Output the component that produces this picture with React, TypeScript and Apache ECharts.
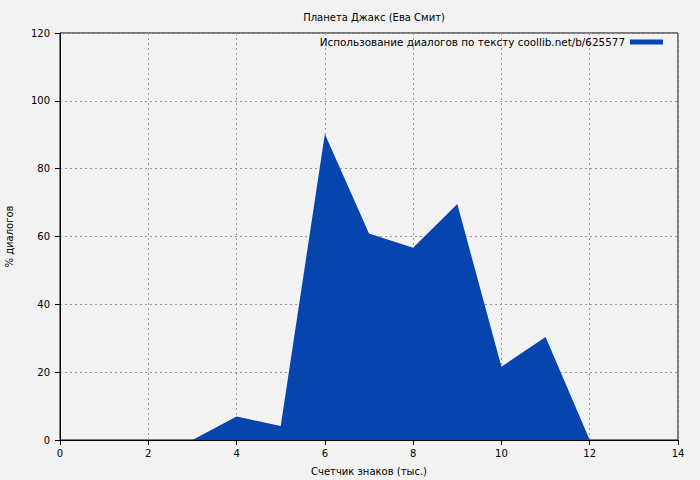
import React, { useEffect, useRef } from "react";
import * as echarts from "echarts";

const xValues = [0, 1, 2, 3, 4, 5, 6, 7, 8, 9, 10, 11, 12];
const yValues = [0, 0, 0, 0, 6.9, 4.1, 90.2, 60.9, 56.7, 69.6, 21.6, 30.4, 0];
const seriesName = "Использование диалогов по тексту coollib.net/b/625577";
const titleText = "Планета Джакс (Ева Смит)";
const xName = "Счетчик знаков (тыс.)";
const yName = "% диалогов";

export default function App() {
  const ref = useRef<HTMLDivElement>(null);
  useEffect(() => {
    if (!ref.current) return;
    const chart = echarts.init(ref.current, null, { renderer: "svg" });
    const font = "DejaVu Sans, sans-serif";
    chart.setOption({
      animation: false,
      backgroundColor: "#f2f2f2",
      textStyle: { fontFamily: font },
      title: {
        text: titleText,
        left: 369,
        textAlign: "center",
        top: 7,
        textStyle: { fontSize: 10, fontWeight: "normal", color: "#000", fontFamily: font },
      },
      legend: {
        show: true,
        data: [{ name: seriesName, icon: "rect" }],
        right: 32,
        top: 32,
        align: "right",
        itemWidth: 33,
        itemHeight: 5,
        itemGap: 8,
        textStyle: { fontSize: 10.4, color: "#000", fontFamily: font },
      },
      grid: {
        left: 60,
        right: 22,
        top: 33,
        bottom: 40,
        containLabel: false,
        outerBoundsMode: "none",
        show: true,
        borderColor: "#000",
        borderWidth: 1,
        backgroundColor: "transparent",
      },
      xAxis: {
        type: "value",
        min: 0,
        max: 14,
        interval: 2,
        name: xName,
        nameLocation: "middle",
        nameGap: 26,
        nameTextStyle: { fontSize: 10, color: "#000", fontFamily: font },
        axisLine: { show: true, onZero: false, lineStyle: { color: "#000", width: 1 } },
        axisTick: { show: true, inside: false, length: 5, lineStyle: { color: "#000" } },
        axisLabel: { fontSize: 10, color: "#000", margin: 8, fontFamily: font },
        splitLine: { show: true, lineStyle: { color: "#999", type: [2, 3], width: 1 } },
      },
      yAxis: {
        type: "value",
        min: 0,
        max: 120,
        interval: 20,
        name: yName,
        nameLocation: "middle",
        nameRotate: 90,
        nameGap: 46,
        nameTextStyle: { fontSize: 10, color: "#000", fontFamily: font },
        axisLine: { show: true, lineStyle: { color: "#000", width: 1 } },
        axisTick: { show: true, inside: false, length: 5, lineStyle: { color: "#000" } },
        axisLabel: { fontSize: 10, color: "#000", margin: 10, fontFamily: font },
        splitLine: { show: true, lineStyle: { color: "#999", type: [2, 3], width: 1 } },
      },
      series: [
        {
          name: seriesName,
          type: "line",
          data: xValues.map((x, i) => [x, yValues[i]]),
          showSymbol: false,
          symbol: "none",
          color: "#0645ad",
          lineStyle: { width: 0, color: "#0645ad" },
          areaStyle: { color: "#0645ad", opacity: 1 },
          z: 3,
        },
      ],
    });
    return () => chart.dispose();
  }, []);
  return <div ref={ref} style={{ width: 700, height: 480, position: "absolute", left: 0, top: 0 }} />;
}
